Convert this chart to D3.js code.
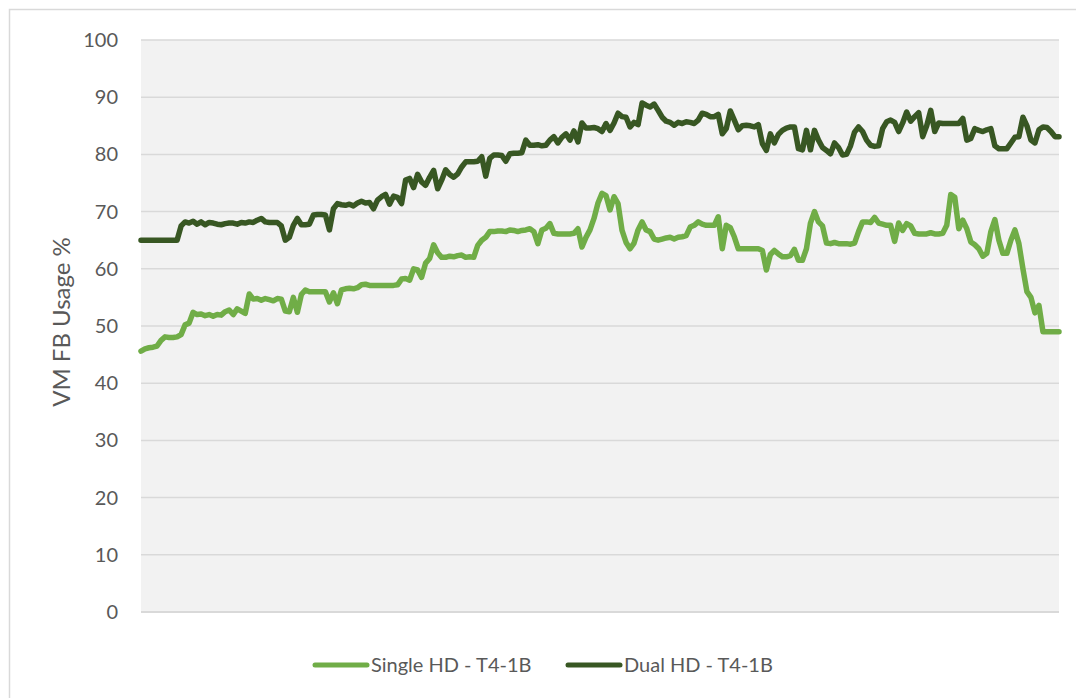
<!DOCTYPE html>
<html>
<head>
<meta charset="utf-8">
<script src="https://cdn.jsdelivr.net/npm/d3@7"></script>
<style>
  body { margin: 0; background: #fff; }
  svg { display: block; }
</style>
</head>
<body>
<div id="chart"></div>
<script>
var width = 1076;
var height = 698;

// series names, y ticks
var seriesNames = ["Single HD - T4-1B", "Dual HD - T4-1B"];
var yTicks = [0, 10, 20, 30, 40, 50, 60, 70, 80, 90, 100];

var single = [
  45.6, 46, 46.2, 46.3, 46.5, 47.5, 48.1, 48, 48, 48.1,
  48.5, 50.2, 50.5, 52.4, 52, 52.1, 51.8, 52, 51.7, 52,
  51.9, 52.5, 52.8, 52, 53, 52.6, 52.2, 55.6, 54.7, 54.8,
  54.5, 54.8, 54.6, 54.4, 54.8, 54.7, 52.6, 52.5, 55, 52.4,
  55.5, 56.3, 56, 56, 56, 56, 56, 54.2, 55.8, 53.9,
  56.3, 56.5, 56.6, 56.5, 56.7, 57.2, 57.3, 57.1, 57.1, 57.1,
  57.1, 57.1, 57.1, 57.1, 57.2, 58.2, 58.3, 58, 60, 59.8,
  58.5, 61, 61.8, 64.2, 62.8, 62, 62, 62.2, 62.1, 62.3,
  62.4, 62, 62.1, 62, 64.1, 65, 65.5, 66.5, 66.5, 66.6,
  66.6, 66.5, 66.8, 66.7, 66.5, 66.7, 66.8, 67, 66.5, 64.4,
  66.8, 67.1, 67.9, 66.2, 66.1, 66.1, 66.1, 66.1, 66.2, 67,
  63.8, 65.5, 66.8, 68.8, 71.5, 73.2, 72.8, 70.3, 72.6, 71.4,
  66.7, 64.6, 63.5, 64.5, 66.8, 68.2, 66.8, 66.5, 65.2, 65,
  65.2, 65.4, 65.5, 65.2, 65.5, 65.6, 65.8, 67.3, 67.6, 68.2,
  67.8, 67.6, 67.6, 67.6, 69.1, 63.5, 67.6, 67.2, 65.6, 63.5,
  63.5, 63.5, 63.5, 63.5, 63.5, 63.2, 59.8, 62.5, 63.2, 62.6,
  62.1, 62.1, 62.3, 63.4, 61.5, 61.5, 63.5, 68, 70, 68.2,
  67.5, 64.5, 64.4, 64.6, 64.4, 64.4, 64.4, 64.3, 64.5, 66.5,
  68.2, 68.2, 68.1, 69, 68, 67.8, 67.6, 67.6, 64.8, 68,
  66.7, 67.9, 67.5, 66.2, 66.1, 66.1, 66.1, 66.3, 66.1, 66.1,
  66.2, 67.6, 73, 72.5, 67, 68.5, 67, 64.7, 64.2, 63.5,
  62.2, 62.7, 66.5, 68.6, 65, 62.7, 62.7, 65, 66.8, 64.4,
  60, 56, 55, 52.3, 53.6, 49, 49, 49, 49, 49
];

var dual = [
  65, 65, 65, 65, 65, 65, 65, 65, 65, 65,
  67.5, 68.2, 68, 68.3, 67.8, 68.2, 67.7, 68.1, 68, 67.8,
  67.7, 67.9, 68, 68, 67.8, 68.1, 68, 68.2, 68.1, 68.5,
  68.8, 68.2, 68.1, 68.1, 68.1, 67.5, 65, 65.5, 67.6, 68.8,
  67.7, 67.7, 67.8, 69.4, 69.5, 69.5, 69.4, 66.8, 70.5, 71.4,
  71.2, 71.1, 71.3, 71, 71.5, 71.8, 71.5, 71.6, 70.5, 72,
  72.6, 73, 71.3, 72.7, 72.5, 71.4, 75.5, 75.8, 74.2, 76.5,
  75.2, 74.6, 76, 77.2, 74, 75.5, 77.3, 76.5, 76, 76.6,
  77.8, 78.7, 78.7, 78.7, 78.8, 79.6, 76.2, 79.3, 79.9, 79.9,
  79.8, 78.8, 80.1, 80.2, 80.2, 80.3, 82.5, 81.6, 81.6, 81.7,
  81.5, 81.6, 82.5, 83.1, 82, 83, 83.6, 82.5, 84.1, 82.2,
  85.5, 84.6, 84.6, 84.7, 84.5, 84, 85.4, 84.2, 85.5, 87.2,
  86.6, 86.5, 84.8, 85.6, 85.2, 89, 88.6, 88.3, 88.8, 87.7,
  86.5, 85.8, 85.6, 85.1, 85.6, 85.4, 85.7, 85.6, 85.4, 86,
  87.2, 87, 86.6, 86.6, 87, 83.6, 84.5, 87.6, 86, 84.3,
  85, 85.1, 85, 84.8, 85.2, 81.9, 80.7, 83.6, 82, 83.5,
  84.2, 84.6, 84.8, 84.8, 81, 80.8, 84.2, 80.8, 84.2, 82.5,
  81.2, 80.7, 80.1, 82, 81.2, 79.9, 80, 81.5, 83.9, 84.8,
  84, 82.5, 81.6, 81.4, 81.5, 84.5, 85.7, 86, 85.6, 84,
  85.5, 87.4, 85.8, 86.6, 87.3, 83.1, 85, 87.7, 84, 85.5,
  85.4, 85.4, 85.4, 85.4, 85.4, 86.3, 82.5, 82.8, 84.5, 84.2,
  84, 84.3, 84.5, 81.5, 81, 81, 81, 82, 83, 83.1,
  86.5, 85, 82.5, 82, 84.3, 84.8, 84.7, 84, 83.1, 83.1
];

var colors = ["#70ad47", "#385723"];

var plot = { left: 141, right: 1059, top: 40, bottom: 612 };

var svg = d3.select("#chart")
  .append("svg")
    .attr("width", width)
    .attr("height", height)
    .attr("font-family", "Lato, 'Open Sans', sans-serif");

// outer chart border (only top/left visible in the picture)
svg.append("rect")
    .attr("x", 9.5)
    .attr("y", 9.5)
    .attr("width", width + 10)
    .attr("height", height + 10)
    .attr("fill", "#fff")
    .attr("stroke", "#d9d9d9")
    .attr("stroke-width", 1.5);

// plot area
svg.append("rect")
    .attr("x", plot.left)
    .attr("y", plot.top)
    .attr("width", plot.right - plot.left)
    .attr("height", plot.bottom - plot.top)
    .attr("fill", "#f2f2f2");

var x = d3.scaleLinear()
    .domain([0, single.length - 1])
    .range([plot.left, plot.right]);

var y = d3.scaleLinear()
    .domain([0, 100])
    .range([plot.bottom, plot.top]);

// gridlines
svg.append("g")
  .selectAll("line")
  .data(yTicks)
  .enter().append("line")
    .attr("x1", plot.left)
    .attr("x2", plot.right)
    .attr("y1", function(d) { return y(d); })
    .attr("y2", function(d) { return y(d); })
    .attr("stroke", "#d9d9d9")
    .attr("stroke-width", function(d) { return d === 0 ? 2 : 1.5; });

// y axis labels
var yAxis = d3.axisLeft(y)
    .tickValues(yTicks)
    .tickSize(0)
    .tickPadding(0);

var gy = svg.append("g")
    .attr("transform", "translate(" + 118 + ",0)")
    .call(yAxis);
gy.select(".domain").remove();
gy.selectAll("text")
    .attr("font-size", 20)
    .attr("font-family", "Lato, 'Open Sans', sans-serif")
    .attr("fill", "#595959");

// axis title
svg.append("text")
    .attr("transform", "translate(70,322) rotate(-90)")
    .attr("text-anchor", "middle")
    .attr("font-size", 24)
    .attr("fill", "#595959")
    .text("VM FB Usage %");

// lines
var line = d3.line()
    .x(function(d, i) { return x(i); })
    .y(function(d) { return y(d); });

[single, dual].forEach(function(series, k) {
  svg.append("path")
      .datum(series)
      .attr("fill", "none")
      .attr("stroke", colors[k])
      .attr("stroke-width", 5.5)
      .attr("stroke-linejoin", "round")
      .attr("stroke-linecap", "round")
      .attr("d", line);
});

// legend
var legendX = [315, 568];
var legend = svg.append("g")
  .selectAll("g")
  .data(seriesNames)
  .enter().append("g")
    .attr("transform", function(d, i) { return "translate(" + legendX[i] + ",665)"; });

legend.append("line")
    .attr("x1", 0)
    .attr("x2", 52)
    .attr("stroke", function(d, i) { return colors[i]; })
    .attr("stroke-width", 5)
    .attr("stroke-linecap", "round");

legend.append("text")
    .attr("x", 56)
    .attr("dy", "0.35em")
    .attr("font-size", 20)
    .attr("fill", "#595959")
    .text(function(d) { return d; });
</script>
</body>
</html>
